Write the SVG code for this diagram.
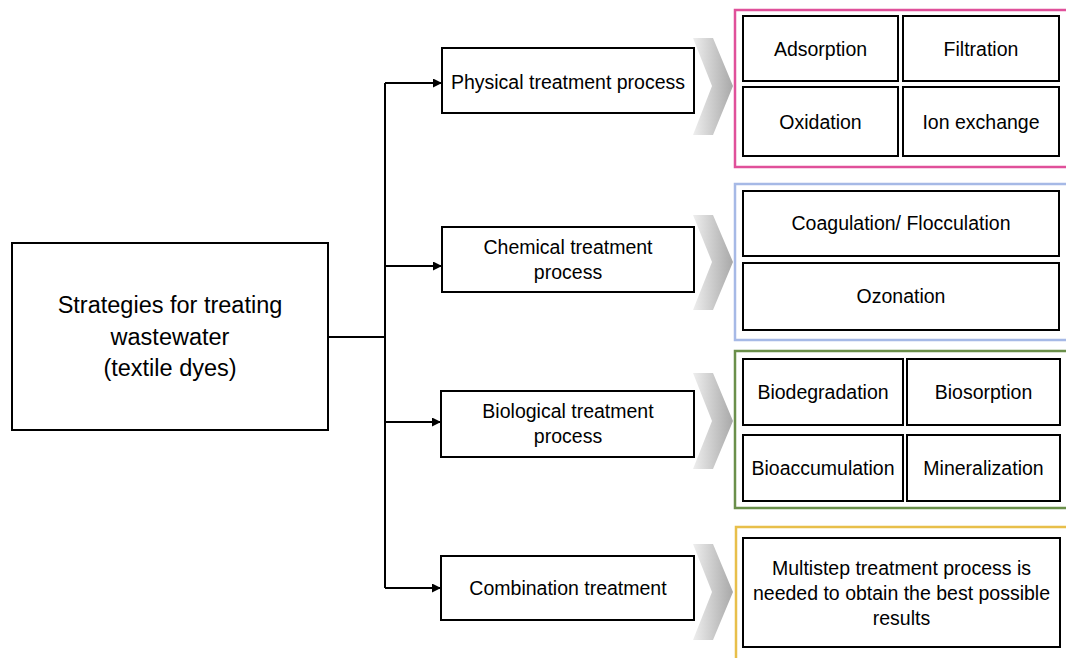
<svg xmlns="http://www.w3.org/2000/svg" width="1066" height="658" viewBox="0 0 1066 658">
<style>
.box{fill:#fff;stroke:#000;stroke-width:2}
.t{font-family:"Liberation Sans",Arial,sans-serif;font-size:19.5px;fill:#000;text-anchor:middle}
.tm{font-size:23.5px}
.ln{fill:none;stroke:#000;stroke-width:2}
.frame{fill:none;stroke-width:2.5}
.chev{fill:url(#g)}
</style>
<defs>
<linearGradient id="g" x1="0" y1="0" x2="1" y2="0">
<stop offset="0" stop-color="#eeeeee"/>
<stop offset="1" stop-color="#a8a8a8"/>
</linearGradient>
<marker id="ah" viewBox="0 0 10 10" refX="10" refY="5" markerWidth="4.5" markerHeight="4.5" orient="auto" markerUnits="strokeWidth">
<path d="M0,0 L10,5 L0,10 z" fill="#000"/>
</marker>
</defs>
<rect width="1066" height="658" fill="#fff"/>

<g id="connectors">
<path class="ln" d="M328,337 H385"/>
<path class="ln" d="M385,83 V588"/>
<path class="ln" d="M385,83 H442" marker-end="url(#ah)"/>
<path class="ln" d="M385,266 H442" marker-end="url(#ah)"/>
<path class="ln" d="M385,422 H441" marker-end="url(#ah)"/>
<path class="ln" d="M385,588 H441" marker-end="url(#ah)"/>
</g>

<g id="chevrons">
<polygon class="chev" points="693,38 713,38 733,86 713,135 693,135 712,86"/>
<polygon class="chev" points="693,215 713,215 733,262 713,310 693,310 712,262"/>
<polygon class="chev" points="693,373 713,373 733,421 713,469 693,469 712,421"/>
<polygon class="chev" points="693,544 713,544 733,592 713,640 693,640 712,592"/>
</g>

<g id="main">
<rect class="box" x="12" y="243" width="316" height="187"/>
<text class="t tm" x="170" y="313">Strategies for treating</text>
<text class="t tm" x="170" y="345">wastewater</text>
<text class="t tm" x="170" y="376">(textile dyes)</text>
</g>

<g id="physical">
<rect class="box" x="442" y="48" width="252" height="65"/>
<text class="t" x="568" y="89">Physical treatment process</text>
</g>
<g id="chemical">
<rect class="box" x="442" y="227" width="252" height="65"/>
<text class="t" x="568" y="254">Chemical treatment</text>
<text class="t" x="568" y="279">process</text>
</g>
<g id="biological">
<rect class="box" x="441" y="391" width="253" height="66"/>
<text class="t" x="568" y="418">Biological treatment</text>
<text class="t" x="568" y="443">process</text>
</g>
<g id="combination">
<rect class="box" x="441" y="556" width="253" height="64"/>
<text class="t" x="568" y="595">Combination treatment</text>
</g>

<g id="physical-group">
<rect class="frame" x="735" y="10" width="334" height="157" stroke="#e0509a"/>
<g id="adsorption"><rect class="box" x="743" y="16" width="155" height="65"/><text class="t" x="820.5" y="56">Adsorption</text></g>
<g id="filtration"><rect class="box" x="903" y="16" width="156" height="65"/><text class="t" x="981" y="56">Filtration</text></g>
<g id="oxidation"><rect class="box" x="743" y="87" width="155" height="69"/><text class="t" x="820.5" y="129">Oxidation</text></g>
<g id="ion-exchange"><rect class="box" x="903" y="87" width="156" height="69"/><text class="t" x="981" y="129">Ion exchange</text></g>
</g>

<g id="chemical-group">
<rect class="frame" x="735" y="184" width="334" height="156" stroke="#a6b9e6"/>
<g id="coagulation"><rect class="box" x="743" y="191" width="316" height="65"/><text class="t" x="901" y="230">Coagulation/ Flocculation</text></g>
<g id="ozonation"><rect class="box" x="743" y="263" width="316" height="67"/><text class="t" x="901" y="303">Ozonation</text></g>
</g>

<g id="biological-group">
<rect class="frame" x="735" y="351" width="334" height="157" stroke="#6a8f4a"/>
<g id="biodegradation"><rect class="box" x="743" y="359" width="160" height="66"/><text class="t" x="823" y="399">Biodegradation</text></g>
<g id="biosorption"><rect class="box" x="907" y="359" width="153" height="66"/><text class="t" x="983.5" y="399">Biosorption</text></g>
<g id="bioaccumulation"><rect class="box" x="743" y="435" width="160" height="66"/><text class="t" x="823" y="475">Bioaccumulation</text></g>
<g id="mineralization"><rect class="box" x="907" y="435" width="153" height="66"/><text class="t" x="983.5" y="475">Mineralization</text></g>
</g>

<g id="combination-group">
<rect class="frame" x="736" y="527" width="334" height="140" stroke="#e8bf4a"/>
<g id="multistep"><rect class="box" x="743" y="538" width="317" height="109"/>
<text class="t" x="901.5" y="575">Multistep treatment process is</text>
<text class="t" x="901.5" y="600">needed to obtain the best possible</text>
<text class="t" x="901.5" y="625">results</text></g>
</g>
</svg>
